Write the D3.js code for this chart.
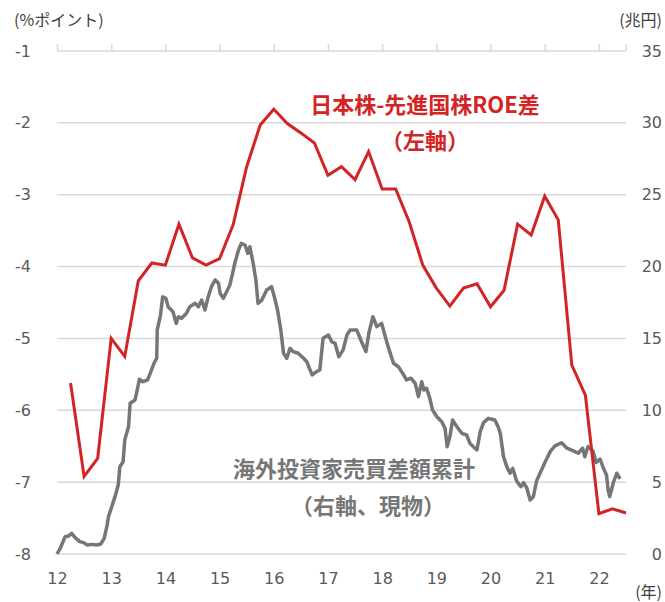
<!DOCTYPE html>
<html>
<head>
  <meta charset="utf-8" />
  <script src="https://cdn.jsdelivr.net/npm/d3@7/dist/d3.min.js"></script>
  <style>
  body { margin: 0; background: #fff; }
  svg text { font-family: "DejaVu Sans", sans-serif; }
  .grid line { stroke: #d9d9d9; stroke-width: 1.5px; }
  .ticklbl { fill: #595959; font-size: 16px; }
  .unit { fill: #404040; font-size: 16px; font-family: "Noto Sans CJK JP", sans-serif !important; }
  .note { font-size: 22px; font-weight: bold; font-family: "Noto Sans CJK JP", sans-serif !important; }
  </style>
</head>
<body>
  <svg id="chart" width="665" height="602"></svg>
  <script>
  // 日本株-先進国株ROE差 (left axis, quarterly)
  var roeYears = [12.25,12.5,12.75,13,13.25,13.5,13.75,14,14.25,14.5,14.75,15,15.25,15.5,15.75,16,
                  16.25,16.5,16.75,17,17.25,17.5,17.75,18,18.25,18.5,18.75,19,19.25,19.5,19.75,20,
                  20.25,20.5,20.75,21,21.25,21.5,21.75,22,22.25,22.5]
  var roeDiff = [-5.62,-6.92,-6.67,-5.00,-5.25,-4.20,-3.95,-3.98,-3.41,-3.88,-3.98,-3.89,-3.42,-2.61,-2.03,-1.81,
                 -2.01,-2.14,-2.28,-2.73,-2.61,-2.79,-2.40,-2.92,-2.92,-3.38,-3.98,-4.30,-4.55,-4.30,-4.24,-4.56,
                 -4.33,-3.41,-3.56,-3.02,-3.35,-5.37,-5.79,-7.44,-7.37,-7.43]

  // 海外投資家売買差額累計 (right axis, 兆円)
  var flowYears = [12.00,12.06,12.15,12.21,12.27,12.33,12.42,12.49,12.56,12.64,12.73,12.81,12.87,12.92,12.95,
                   13.01,13.07,13.13,13.16,13.22,13.25,13.32,13.35,13.44,13.48,13.52,13.59,13.67,13.72,13.79,
                   13.84,13.85,13.91,13.95,14.01,14.05,14.14,14.20,14.24,14.30,14.39,14.45,14.55,14.61,14.67,
                   14.73,14.79,14.85,14.92,14.98,15.01,15.07,15.13,15.19,15.24,15.28,15.35,15.40,15.47,15.52,
                   15.56,15.62,15.67,15.71,15.78,15.87,15.96,16.01,16.07,16.13,16.18,16.24,16.30,16.36,16.45,
                   16.55,16.61,16.67,16.71,16.79,16.85,16.91,17.01,17.07,17.13,17.20,17.28,17.35,17.41,17.53,
                   17.62,17.70,17.76,17.83,17.90,17.99,18.05,18.11,18.21,18.30,18.38,18.45,18.53,18.61,18.67,
                   18.73,18.77,18.82,18.88,18.93,19.01,19.10,19.16,19.20,19.25,19.30,19.38,19.47,19.56,19.62,
                   19.68,19.75,19.81,19.87,19.96,20.08,20.14,20.18,20.24,20.30,20.36,20.41,20.48,20.56,20.61,
                   20.67,20.73,20.79,20.85,20.94,21.01,21.10,21.19,21.31,21.41,21.53,21.62,21.70,21.74,21.80,
                   21.89,21.95,22.02,22.09,22.14,22.17,22.20,22.27,22.33,22.39]
  var flowCum = [0.00,0.40,1.20,1.25,1.44,1.16,0.86,0.79,0.63,0.67,0.63,0.70,1.09,1.90,2.60,
                 3.29,3.99,4.80,6.07,6.42,7.93,8.86,10.49,10.72,11.41,12.16,11.99,12.11,12.57,13.27,
                 13.62,15.59,16.63,17.90,17.79,17.21,16.86,16.05,16.51,16.40,16.75,17.21,17.44,17.21,17.67,
                 16.98,17.90,18.60,19.07,18.84,18.14,17.79,18.25,18.72,19.53,20.23,21.15,21.62,21.50,20.92,
                 21.38,20.23,19.07,17.44,17.67,18.37,18.60,17.90,16.98,15.59,13.97,13.62,14.31,14.08,13.97,
                 13.62,13.38,12.80,12.46,12.69,12.80,15.01,15.24,14.77,14.66,13.73,14.20,15.24,15.59,15.59,
                 14.77,14.08,15.47,16.51,15.82,16.05,15.24,14.43,13.27,13.03,12.57,12.11,12.23,11.88,10.95,
                 11.99,11.41,11.53,10.83,10.02,9.55,9.21,8.75,7.47,8.16,9.32,8.86,8.40,8.28,7.70,
                 7.47,7.24,8.51,9.14,9.44,9.32,8.86,8.40,6.77,6.08,5.62,5.96,5.09,4.68,4.96,
                 4.59,3.76,3.99,5.08,5.85,6.42,7.12,7.52,7.74,7.36,7.18,7.01,7.36,6.77,7.48,
                 7.17,6.37,6.61,5.91,5.50,4.45,3.99,5.01,5.62,5.22]

  var leftTicks = [-1,-2,-3,-4,-5,-6,-7,-8]
  var rightTicks = [35,30,25,20,15,10,5,0]
  var yearTicks = [12,13,14,15,16,17,18,19,20,21,22]

  var svg = d3.select('#chart')

  var x = d3.scaleLinear().domain([12, 22.5]).range([57, 626])
  var yL = d3.scaleLinear().domain([-8, -1]).range([554, 51])
  var yR = d3.scaleLinear().domain([0, 35]).range([554, 51])

  // gridlines
  svg.append('g').attr('class', 'grid')
     .selectAll('line').data(leftTicks).enter().append('line')
     .attr('x1', x(12)).attr('x2', x(22.5))
     .attr('y1', d => yL(d)).attr('y2', d => yL(d))

  // year tick marks along the top (-1) line
  var topAxis = svg.append('g')
     .attr('transform', 'translate(0,' + yL(-1) + ')')
     .call(d3.axisTop(x).tickValues(yearTicks).tickSize(7).tickFormat(''))
  topAxis.select('.domain').remove()
  topAxis.selectAll('line').attr('stroke', '#d9d9d9').attr('stroke-width', 1.5)
  topAxis.append('line').attr('x1', x(22.5)).attr('x2', x(22.5)).attr('y1', 0).attr('y2', -7)
     .attr('stroke', '#d9d9d9').attr('stroke-width', 1.5)

  // left axis labels
  var la = svg.append('g').attr('transform', 'translate(31,0)')
     .call(d3.axisLeft(yL).tickValues(leftTicks).tickSize(0).tickPadding(0).tickFormat(d3.format('d')))
  la.select('.domain').remove()
  la.selectAll('text').attr('class', 'ticklbl').attr('font-family', null).attr('font-size', null)
     .attr('fill', null).text(d => d < 0 ? '-' + Math.abs(d) : d)

  // right axis labels
  var ra = svg.append('g').attr('transform', 'translate(662,0)')
     .call(d3.axisRight(yR).tickValues(rightTicks).tickSize(0).tickPadding(0))
  ra.select('.domain').remove()
  ra.selectAll('text').attr('class', 'ticklbl').attr('text-anchor', 'end')
     .attr('font-family', null).attr('font-size', null).attr('fill', null)

  // bottom year labels
  var ba = svg.append('g').attr('transform', 'translate(0,573)')
     .call(d3.axisBottom(x).tickValues(yearTicks).tickSize(0).tickPadding(0))
  ba.select('.domain').remove()
  ba.selectAll('text').attr('class', 'ticklbl').attr('font-family', null)
     .attr('font-size', null).attr('fill', null)

  // units
  svg.append('text').attr('class', 'unit').attr('x', 14).attr('y', 26).text('(%ポイント)')
  svg.append('text').attr('class', 'unit').attr('x', 662).attr('y', 26).attr('text-anchor', 'end').text('(兆円)')
  svg.append('text').attr('class', 'unit').attr('x', 662).attr('y', 598).attr('text-anchor', 'end').text('(年)')

  // gray series
  var flowLine = d3.line().x((d, i) => x(flowYears[i])).y(d => yR(d))
  svg.append('path').datum(flowCum)
     .attr('fill', 'none').attr('stroke', '#767676').attr('stroke-width', 3.5)
     .attr('stroke-linejoin', 'round').attr('d', flowLine)

  // red series
  var roeLine = d3.line().x((d, i) => x(roeYears[i])).y(d => yL(d))
  svg.append('path').datum(roeDiff)
     .attr('fill', 'none').attr('stroke', '#d22424').attr('stroke-width', 3)
     .attr('stroke-linejoin', 'miter').attr('d', roeLine)

  // series notes
  var notes = [
    {t: '日本株-先進国株ROE差', x: 425, y: 103, c: '#d22424'},
    {t: '（左軸）', x: 425, y: 139, c: '#d22424'},
    {t: '海外投資家売買差額累計', x: 354, y: 467, c: '#767676'},
    {t: '（右軸、現物）', x: 368, y: 504, c: '#767676'}
  ]
  svg.selectAll('text.note').data(notes).enter().append('text')
     .attr('class', 'note').attr('x', d => d.x).attr('y', d => d.y)
     .attr('text-anchor', 'middle').attr('dominant-baseline', 'central')
     .attr('fill', d => d.c).text(d => d.t)
  </script>
</body>
</html>
